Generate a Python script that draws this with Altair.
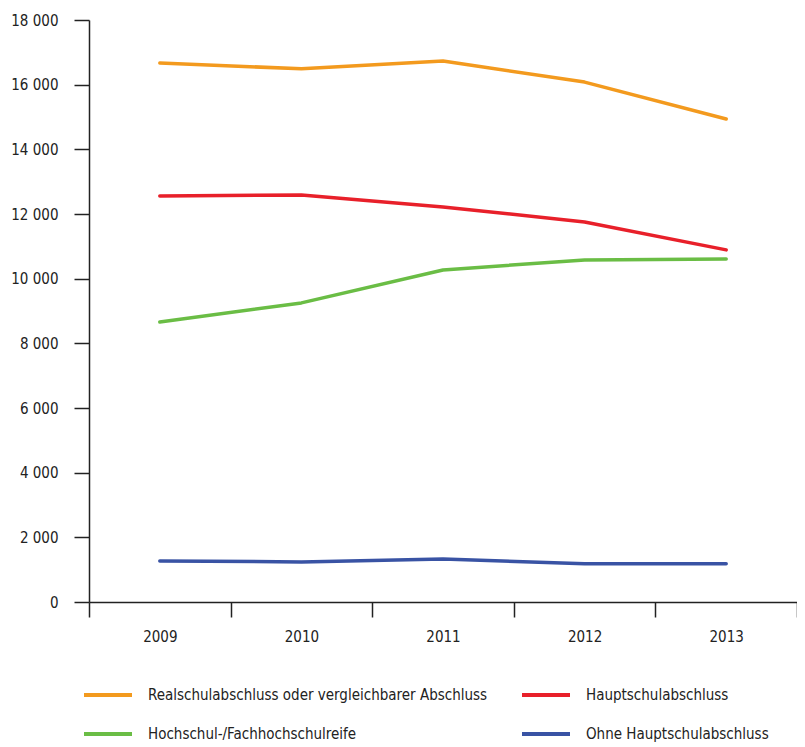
import altair as alt
import pandas as pd

years = ["2009", "2010", "2011", "2012", "2013"]
series_names = [
    "Realschulabschluss oder vergleichbarer  Abschluss",
    "Hauptschulabschluss",
    "Hochschul-/Fachhochschulreife",
    "Ohne Hauptschulabschluss",
]
realschule = [16670, 16490, 16730, 16080, 14940]
hauptschule = [12560, 12590, 12220, 11750, 10890]
hochschule = [8660, 9250, 10270, 10580, 10610]
ohne = [1270, 1240, 1330, 1180, 1180]
colors = ["#F39A1E", "#E8202A", "#6ABD45", "#3953A4"]
y_ticks = [0, 2000, 4000, 6000, 8000, 10000, 12000, 14000, 16000, 18000]

rows = []
for name, vals in zip(series_names, [realschule, hauptschule, hochschule, ohne]):
    for yr, v in zip(years, vals):
        rows.append({"Jahr": yr, "Wert": v, "Serie": name})
df = pd.DataFrame(rows)

FONT = "DejaVu Sans Condensed, Roboto, sans-serif"

chart = alt.Chart(df).mark_line(strokeWidth=3.5, strokeCap="round", strokeJoin="round").encode(
    x=alt.X("Jahr:O", sort=years,
            scale=alt.Scale(type="band", paddingInner=0, paddingOuter=0),
            axis=alt.Axis(title=None, labelAngle=0, tickBand="extent", tickSize=15,
                          labelPadding=12, domainColor="#222", tickColor="#222",
                          domainWidth=1.5, tickWidth=1.5,
                          labelFont=FONT, labelFontSize=15, labelColor="#222")),
    y=alt.Y("Wert:Q", scale=alt.Scale(domain=[0, 18000], nice=False),
            axis=alt.Axis(title=None, values=y_ticks, grid=False, tickSize=15,
                          labelPadding=16, domainColor="#222", tickColor="#222",
                          domainWidth=1.5, tickWidth=1.5,
                          labelExpr="replace(format(datum.value, ',d'), ',', ' ')",
                          labelFont=FONT, labelFontSize=15, labelColor="#222")),
    color=alt.Color("Serie:N", sort=series_names,
                    scale=alt.Scale(domain=series_names, range=colors),
                    legend=alt.Legend(title=None, orient="none", legendX=-7, legendY=649,
                                      direction="horizontal", columns=2,
                                      symbolType="stroke", symbolSize=2304,
                                      symbolStrokeWidth=4, labelOffset=14,
                                      columnPadding=22, rowPadding=5,
                                      labelFont=FONT, labelFontSize=15, labelColor="#222",
                                      labelLimit=500)),
).properties(
    width=708, height=582,
    padding={"left": 81, "top": 12, "right": 0, "bottom": 140},
    autosize=alt.AutoSizeParams(type="none"),
).configure_view(stroke=None)

chart.save("out.html", embed_options={"renderer": "svg", "actions": False})
